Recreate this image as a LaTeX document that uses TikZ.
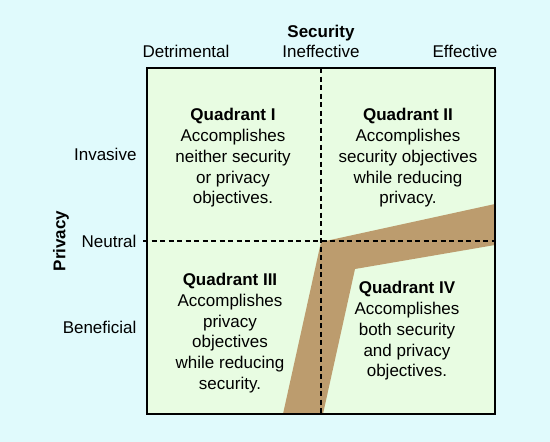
\documentclass[tikz,border=0pt]{standalone}
\usepackage{fontspec}
\setmainfont{Liberation Sans}
\usepackage{tikz}

\definecolor{skybg}{HTML}{E0FAFC}
\definecolor{gridfill}{HTML}{E8FCE2}
\definecolor{tanband}{HTML}{BC9C6E}

\begin{document}
\begin{tikzpicture}[x=1pt,y=-1pt,
        axislabel/.style={font=\fontsize{17}{20}\selectfont},
        axistitle/.style={font=\fontsize{17}{20}\selectfont\bfseries},
        quadtext/.style={align=center,font=\fontsize{17}{20.7}\selectfont},
        divider/.style={dash pattern=on 5pt off 3.5pt, line width=1.2pt}]
        \useasboundingbox[fill=skybg] (0,0) rectangle (550,442);
        \fill[gridfill] (147,68) rectangle (495,414);
        \fill[tanband] (283,414) -- (321,242) -- (495,204) -- (495,245) -- (355,269) -- (323,414) -- cycle;
        \coordinate (midtop) at (321,68);
        \coordinate (midbot) at (321,414);
        \coordinate (neutleft) at (143,241);
        \coordinate (neutright) at (495,241);
        \draw [divider] (midtop) -- (midbot);
        \draw [divider] (neutleft) -- (neutright);
        \draw [line width=1.8pt] (147,68) rectangle (495,414);
        % axis titles and ticks
        \node [axistitle, anchor=base] (sectitle) at (321,37) {Security};
        \node [axislabel, anchor=base] (detr) at (186,57) {Detrimental};
        \node [axislabel, anchor=base] (ineff) at (321,57) {Ineffective};
        \node [axislabel, anchor=base] (eff) at (465,57) {Effective};
        \node [axistitle, rotate=90] (privtitle) at (61,241) {Privacy};
        \node [axislabel, anchor=base east] (inv) at (140,160) {Invasive};
        \node [axislabel, anchor=base east] (neut) at (140,247) {Neutral};
        \node [axislabel, anchor=base east] (bene) at (140,333) {Beneficial};
        % quadrants
        \node [quadtext] (qone) at (233,158) {\textbf{Quadrant I}\\Accomplishes\\neither security\\or privacy\\objectives.};
        \node [quadtext] (qtwo) at (408,158) {\textbf{Quadrant II}\\Accomplishes\\security objectives\\while reducing\\privacy.};
        \node [quadtext] (qthree) at (230,333) {\textbf{Quadrant III}\\Accomplishes\\privacy\\objectives\\while reducing\\security.};
        \node [quadtext] (qfour) at (407,331) {\textbf{Quadrant IV}\\Accomplishes\\both security\\and privacy\\objectives.};
\end{tikzpicture}
\end{document}
